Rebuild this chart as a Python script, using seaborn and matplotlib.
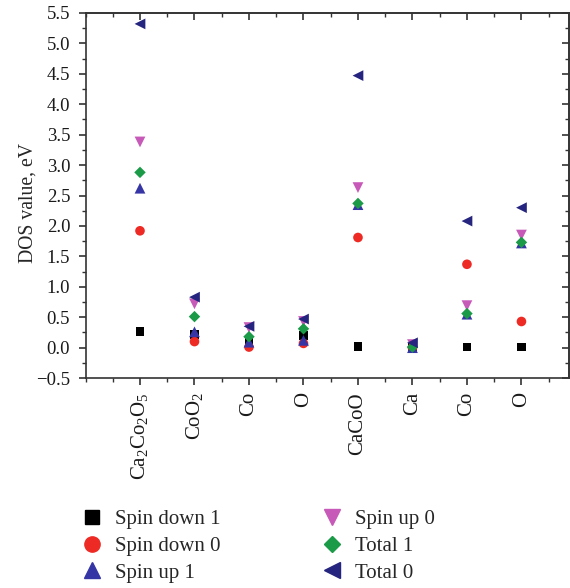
import numpy as np
import pandas as pd
import matplotlib
matplotlib.use("Agg")
import matplotlib.pyplot as plt
import seaborn as sns
from matplotlib.lines import Line2D

categories = ["Ca$_2$Co$_2$O$_5$", "CoO$_2$", "Co", "O", "CaCoO", "Ca", "Co", "O"]
series_names = ["Spin down 1", "Spin down 0", "Spin up 1", "Spin up 0", "Total 1", "Total 0"]

spin_down_1 = [0.27, 0.22, 0.10, 0.20, 0.02, 0.00, 0.01, 0.01]
spin_down_0 = [1.92, 0.10, 0.01, 0.07, 1.81, 0.00, 1.37, 0.43]
spin_up_1 = [2.62, 0.26, 0.09, 0.12, 2.35, 0.00, 0.55, 1.72]
spin_up_0 = [3.38, 0.72, 0.33, 0.43, 2.63, 0.05, 0.69, 1.85]
total_1 = [2.88, 0.51, 0.18, 0.31, 2.37, 0.01, 0.56, 1.73]
total_0 = [5.32, 0.83, 0.35, 0.47, 4.47, 0.08, 2.08, 2.30]

values = [spin_down_1, spin_down_0, spin_up_1, spin_up_0, total_1, total_0]
colors = ["#000000", "#ee2a24", "#3535a5", "#c75ab8", "#1b9a48", "#25257f"]
markers = ["s", "o", "^", "v", "D", "<"]
sizes = [40, 48, 60, 60, 34, 60]

rows = []
for name, vals in zip(series_names, values):
    for i, v in enumerate(vals):
        rows.append({"pos": i + 1, "value": v, "series": name})
df = pd.DataFrame(rows)

sns.set_style("ticks")
plt.rcParams["font.family"] = ["Liberation Serif", "DejaVu Serif"]
plt.rcParams["mathtext.fontset"] = "custom"
plt.rcParams["mathtext.rm"] = "Liberation Serif"
plt.rcParams["mathtext.it"] = "Liberation Serif:italic"

fig = plt.figure(figsize=(5.7, 5.88), dpi=100)
ax = fig.add_axes([0.150, 0.357, 0.848, 0.621])

for name, col, mk, sz in zip(series_names, colors, markers, sizes):
    sub = df[df["series"] == name]
    sns.scatterplot(data=sub, x="pos", y="value", color=col, marker=mk, s=sz,
                    edgecolor="none", linewidth=0, ax=ax, legend=False, zorder=3)

ax.set_xlim(0, 8.87)
ax.set_ylim(-0.5, 5.5)
xt = np.arange(1, 9)
xminor = np.arange(0, 9, 0.5)
yt = np.arange(-0.5, 5.51, 0.5)
yminor = np.arange(-0.5, 5.5, 0.25)
ax.set_xticks(xt)
ax.set_xticklabels(categories, rotation=90, fontsize=15)
ax.set_xticks(xminor, minor=True)
ax.set_yticks(yt)
ax.set_yticklabels([f"{v:.1f}".replace("-", "\u2212") for v in yt], fontsize=13.5)
ax.set_yticks(yminor, minor=True)
ax.set_xlabel("")
ax.set_ylabel("DOS value, eV", fontsize=14.2)
ax.yaxis.set_label_coords(-0.100, 0.48)

for s in ax.spines.values():
    s.set_linewidth(1.2)
    s.set_color("#333333")
ax.tick_params(axis="both", which="major", direction="out", length=5, width=1.2,
               color="#333333", labelcolor="#1a1a1a")
ax.tick_params(axis="both", which="minor", direction="out", length=3, width=1.0, color="#333333")
ax.tick_params(axis="x", which="major", pad=5)
ax.tick_params(axis="y", which="major", pad=6)

top = ax.secondary_xaxis("top")
top.set_xticks(xt)
top.set_xticks(xminor, minor=True)
top.tick_params(which="major", direction="in", length=5, width=1.2, color="#333333", labeltop=False)
top.tick_params(which="minor", direction="in", length=3, width=1.0, color="#333333")
top.spines["top"].set_linewidth(1.2)
top.spines["top"].set_color("#333333")

right = ax.secondary_yaxis("right")
right.set_yticks(yt)
right.set_yticks(yminor, minor=True)
right.tick_params(which="major", direction="in", length=5, width=1.2, color="#333333", labelright=False)
right.tick_params(which="minor", direction="in", length=3, width=1.0, color="#333333")
right.spines["right"].set_linewidth(1.2)
right.spines["right"].set_color("#333333")

handles = [Line2D([0], [0], linestyle="none", marker=mk, color=col, markersize=ms)
           for mk, col, ms in zip(markers, colors, [10, 11, 11, 11, 8.5, 11])]
fig.legend(handles, series_names, loc="upper left", bbox_to_anchor=(0.10, 0.165),
           ncol=2, frameon=False, fontsize=15, columnspacing=4.55,
           handletextpad=0.3, labelspacing=0.34, handlelength=1.6)

fig.savefig("out.png", dpi=100)
